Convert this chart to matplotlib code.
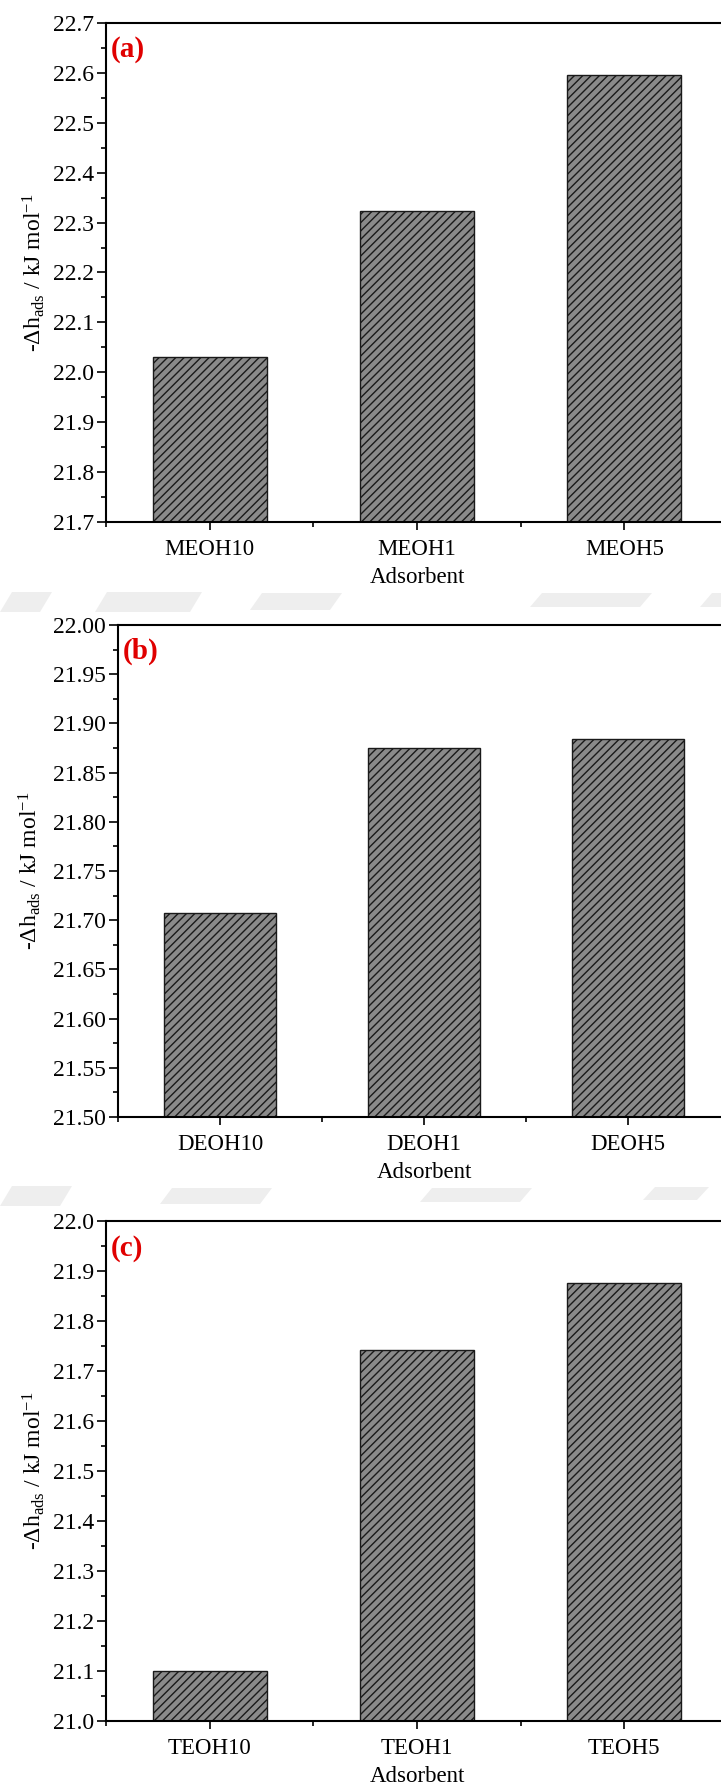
import matplotlib
matplotlib.use('Agg')
import matplotlib.pyplot as plt
import numpy as np
from matplotlib.patches import Polygon
from matplotlib.ticker import MultipleLocator, FormatStrFormatter, FixedLocator

plt.rcParams['font.family'] = ['Liberation Serif', 'DejaVu Serif']
plt.rcParams['mathtext.fontset'] = 'custom'
plt.rcParams['mathtext.rm'] = 'Liberation Serif'
plt.rcParams['mathtext.it'] = 'Liberation Serif:italic'
plt.rcParams['hatch.linewidth'] = 1.0
plt.rcParams['hatch.color'] = '#262626'

# data
labels_a = ['MEOH10', 'MEOH1', 'MEOH5']
values_a = [22.031, 22.323, 22.596]
labels_b = ['DEOH10', 'DEOH1', 'DEOH5']
values_b = [21.707, 21.875, 21.884]
labels_c = ['TEOH10', 'TEOH1', 'TEOH5']
values_c = [21.100, 21.742, 21.876]

ylabel = r'-Δh$_{\mathrm{ads}}$ / kJ mol$^{\mathrm{-1}}$'

W, H = 721, 1789
fig = plt.figure(figsize=(W / 100, H / 100), dpi=100)

# faint watermark blotches showing in the gaps between the panels (pixel boxes)
blotches = [
    (0, 40, 592, 612), (95, 190, 592, 612), (250, 330, 593, 610),
    (530, 640, 593, 607), (700, 721, 593, 607),
    (0, 60, 1186, 1206), (160, 260, 1188, 1204), (420, 520, 1188, 1202),
    (643, 697, 1187, 1200),
]
for x0, x1, y0, y1 in blotches:
    pts = [(x0 + 12, y0), (x1 + 12, y0), (x1, y1), (x0, y1)]
    fig.patches.append(Polygon([(px / W, 1 - py / H) for px, py in pts], closed=True,
                               transform=fig.transFigure, facecolor='#eeeeee',
                               edgecolor='none', zorder=-1))


def panel(left, top, bottom, right, labels, values, ylim, step, fmt, tag, ylab_x):
    ax = fig.add_axes([left / W, 1 - bottom / H, (right - left) / W, (bottom - top) / H])
    x = np.arange(len(labels))
    ymin = ylim[0]
    ax.bar(x, np.array(values) - ymin, bottom=ymin, width=0.55,
           color='#8a8a8a', edgecolor='#1a1a1a', linewidth=1.0, hatch='////')
    ax.set_xlim(-0.5, 2.5)
    ax.set_ylim(*ylim)
    ax.yaxis.set_major_locator(MultipleLocator(step))
    ax.yaxis.set_minor_locator(MultipleLocator(step / 2))
    ax.yaxis.set_major_formatter(FormatStrFormatter(fmt))
    ax.set_xticks(x)
    ax.set_xticklabels(labels)
    ax.xaxis.set_minor_locator(FixedLocator([-0.5, 0.5, 1.5, 2.5]))
    ax.tick_params(axis='y', which='major', direction='out', length=6.5, width=1.2,
                   labelsize=17, pad=2)
    ax.tick_params(axis='y', which='minor', direction='out', length=3.5, width=1.2)
    ax.tick_params(axis='x', which='major', direction='out', length=6, width=1.2,
                   labelsize=16.5, pad=6)
    ax.tick_params(axis='x', which='minor', direction='out', length=3.5, width=1.2)
    for s in ax.spines.values():
        s.set_linewidth(1.5)
    ax.set_xlabel('Adsorbent', fontsize=16.5, labelpad=5)
    ax.set_ylabel(ylabel, fontsize=17)
    ax.yaxis.set_label_coords(ylab_x, 0.5)
    ax.text(0.007, 0.946, tag, transform=ax.transAxes, color='#e00000',
            fontweight='bold', fontsize=21, ha='left', va='center')
    return ax


panel(106, 23, 522, 728, labels_a, values_a, (21.7, 22.7), 0.1, '%.1f', '(a)', -0.095)
panel(118, 625, 1117, 730, labels_b, values_b, (21.5, 22.0), 0.05, '%.2f', '(b)', -0.122)
panel(106, 1221, 1721, 728, labels_c, values_c, (21.0, 22.0), 0.1, '%.1f', '(c)', -0.095)

fig.savefig('out.png', dpi=100)
